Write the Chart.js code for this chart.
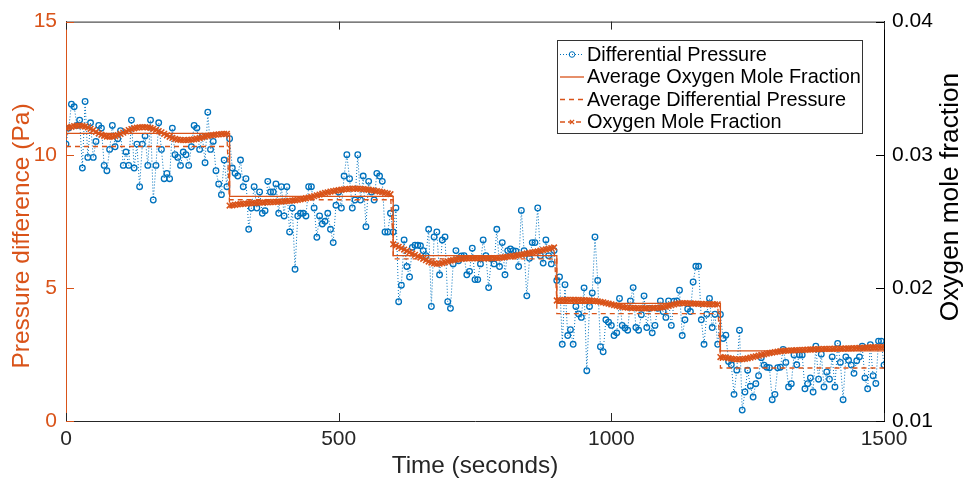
<!DOCTYPE html>
<html>
<head>
<meta charset="utf-8">
<script src="https://cdn.jsdelivr.net/npm/chart.js@4.4.0/dist/chart.umd.min.js"></script>
<style>
  body { margin: 0; background: #fff; }
  canvas { display: block; }
</style>
</head>
<body>
<canvas id="chart" width="964" height="483"></canvas>
<script>
// sampling interval of both measured series (seconds)
var sampleStep = 5;
var stageEdges = [0, 300, 600, 900, 1200, 1500];
var xTicks = [0, 500, 1000, 1500];
var leftTicks = [0, 5, 10, 15];
var rightTicks = [0.01, 0.02, 0.03, 0.04];

// differential pressure (Pa), one array per stage
var dpStage1 = [10.4, 11.0, 11.9, 11.8, 11.1, 11.3, 9.5, 12.0, 9.9, 11.2,
    9.9, 10.5, 11.1, 11.0, 9.6, 9.4, 10.2, 11.1, 10.3, 10.6,
    10.9, 9.6, 10.1, 9.6, 11.3, 9.5, 10.4, 8.8, 10.4, 10.7,
    9.6, 11.3, 8.3, 9.6, 11.2, 10.2, 9.1, 9.3, 9.1, 11.0,
    10.0, 9.9, 9.6, 10.1, 10.0, 9.6, 10.3, 11.1, 11.0, 10.2,
    10.7, 9.7, 11.6, 10.2, 10.5, 9.4, 8.9, 8.5, 9.8, 8.8];
var dpStage2 = [10.6, 9.5, 9.3, 9.2, 9.8, 8.8, 9.1, 7.2, 8.0, 8.8,
    8.0, 8.6, 7.8, 7.9, 9.0, 8.6, 8.6, 8.9, 7.8, 8.8,
    7.7, 8.8, 7.1, 8.0, 5.7, 7.7, 7.8, 7.8, 7.7, 8.8,
    8.8, 8.0, 6.9, 7.7, 7.4, 7.5, 7.8, 7.2, 6.7, 8.1,
    8.6, 8.0, 9.2, 10.0, 9.1, 8.0, 8.3, 10.0, 8.3, 9.2,
    7.3, 9.0, 8.6, 8.3, 9.3, 9.2, 9.0, 7.1, 7.1, 7.8];
var dpStage3 = [7.1, 8.0, 4.48, 5.1, 6.8, 5.8, 5.41, 6.52, 6.6, 6.6,
    6.58, 6.4, 6.21, 7.2, 4.3, 6.91, 7.1, 5.49, 6.8, 6.91,
    4.48, 4.23, 5.9, 6.4, 6.02, 6.2, 6.21, 5.49, 5.62, 6.49,
    5.31, 5.31, 5.9, 6.8, 6.21, 5.01, 6.09, 5.9, 7.2, 5.8,
    6.7, 5.49, 6.4, 6.46, 6.4, 6.38, 5.8, 7.91, 6.4, 4.7,
    6.11, 6.7, 6.7, 8.0, 6.21, 5.93, 6.8, 6.21, 5.9, 6.4];
var dpStage4 = [5.28, 5.41, 2.88, 5.12, 3.21, 3.43, 2.88, 4.3, 4.02, 3.89,
    5.0, 1.89, 4.3, 4.81, 6.91, 5.28, 2.79, 2.6, 3.8, 3.71,
    3.59, 3.21, 3.31, 4.6, 3.59, 3.49, 3.41, 4.51, 5.01, 3.51,
    3.41, 3.99, 4.7, 3.51, 4.23, 3.31, 3.59, 4.23, 4.51, 4.11,
    3.89, 4.51, 3.59, 4.5, 4.51, 4.91, 3.21, 3.8, 4.21, 4.11,
    5.22, 5.81, 5.81, 3.8, 2.88, 4.01, 4.6, 3.51, 4.01, 2.88];
var dpStage5 = [4.0, 3.1, 3.22, 2.23, 2.11, 1.0, 1.91, 3.41, 0.41, 1.09, 1.91,
    1.31, 0.9, 1.4, 1.7, 2.38, 2.1, 2.02, 2.0, 0.8, 1.0,
    2.0, 2.02, 2.69, 2.2, 1.28, 1.4, 2.48, 2.11, 2.48, 2.48,
    1.21, 1.4, 1.62, 1.09, 2.81, 1.57, 2.51, 1.28, 1.84, 1.57,
    2.41, 1.28, 2.91, 2.2, 0.8, 2.41, 2.28, 2.1, 1.79, 2.26,
    2.41, 2.81, 1.62, 1.21, 2.87, 1.7, 1.41, 3.0, 3.0, 2.1];

// oxygen mole fraction, one array per stage
var o2Stage1 = [.03200, .03205, .03210, .03215, .03218, .03219, .03216, .03212, .03205, .03195,
    .03185, .03172, .03160, .03150, .03142, .03137, .03135, .03136, .03140, .03147,
    .03156, .03166, .03176, .03185, .03193, .03199, .03203, .03206, .03207, .03207,
    .03205, .03201, .03195, .03187, .03178, .03168, .03157, .03146, .03135, .03126,
    .03119, .03114, .03111, .03110, .03110, .03111, .03113, .03116, .03120, .03125,
    .03131, .03136, .03141, .03145, .03148, .03151, .03153, .03155, .03156, .03157];
var o2Stage2 = [.02618, .02620, .02624, .02627, .02629, .02631, .02633, .02634, .02636, .02637,
    .02638, .02640, .02641, .02642, .02643, .02644, .02645, .02646, .02647, .02648,
    .02650, .02652, .02654, .02656, .02658, .02661, .02665, .02669, .02673, .02678,
    .02683, .02689, .02695, .02701, .02707, .02713, .02718, .02723, .02727, .02731,
    .02734, .02737, .02740, .02742, .02744, .02745, .02745, .02745, .02744, .02742,
    .02740, .02737, .02734, .02731, .02727, .02723, .02719, .02714, .02709, .02704];
var o2Stage3 = [.02328, .02318, .02308, .02298, .02288, .02278, .02268, .02258, .02248, .02238,
    .02228, .02218, .02208, .02198, .02190, .02184, .02180, .02182, .02186, .02192,
    .02198, .02204, .02209, .02213, .02216, .02218, .02220, .02221, .02222, .02222,
    .02222, .02222, .02222, .02221, .02221, .02221, .02222, .02223, .02224, .02226,
    .02228, .02231, .02234, .02237, .02240, .02243, .02246, .02250, .02254, .02258,
    .02262, .02266, .02270, .02274, .02279, .02284, .02289, .02294, .02299, .02304];
var o2Stage4 = [.01905, .01907, .01908, .01909, .01910, .01910, .01910, .01909, .01909, .01908,
    .01907, .01906, .01905, .01904, .01902, .01899, .01895, .01891, .01886, .01881,
    .01876, .01871, .01866, .01861, .01857, .01854, .01852, .01850, .01849, .01848,
    .01847, .01847, .01847, .01847, .01847, .01848, .01849, .01850, .01852, .01855,
    .01859, .01864, .01870, .01876, .01881, .01884, .01885, .01885, .01884, .01883,
    .01882, .01881, .01880, .01879, .01878, .01878, .01877, .01877, .01876, .01876];
var o2Stage5 = [.01480, .01478, .01476, .01472, .01468, .01465, .01463, .01463, .01464, .01467,
    .01471, .01476, .01481, .01486, .01491, .01496, .01501, .01506, .01510, .01514,
    .01518, .01521, .01524, .01526, .01528, .01529, .01530, .01531, .01532, .01533,
    .01534, .01535, .01536, .01537, .01538, .01539, .01540, .01540, .01541, .01541,
    .01542, .01542, .01543, .01543, .01544, .01544, .01545, .01545, .01546, .01547,
    .01548, .01549, .01550, .01551, .01552, .01553, .01554, .01554, .01555, .01555,
    .01556];

// stage averages
var avgPressure = [10.31, 8.31, 6.09, 4.03, 1.99];
var avgOxygen = [0.03161, 0.02687, 0.02242, 0.01884, 0.01526];

var blue = '#0072BD';
var orange = '#D95319';
var axisGrey = '#262626';
var fontFamily = "'Liberation Sans', Arial, Helvetica, sans-serif";

var pressure = dpStage1.concat(dpStage2, dpStage3, dpStage4, dpStage5);
var oxygen = o2Stage1.concat(o2Stage2, o2Stage3, o2Stage4, o2Stage5);

function series(values) {
    return values.map(function (v, i) { return { x: i * sampleStep, y: v }; });
}

function steps(levels) {
    var pts = [];
    levels.forEach(function (v, i) {
        pts.push({ x: stageEdges[i], y: v });
        pts.push({ x: stageEdges[i + 1], y: v });
    });
    return pts;
}

function fixedTicks(list) {
    return function (scale) {
        scale.ticks = list.map(function (v) { return { value: v }; });
    };
}

// inward tick marks and the top edge of the box
var boxPlugin = {
    id: 'box',
    afterDatasetsDraw: function (chart) {
        var c = chart.ctx, a = chart.chartArea, s = chart.scales, len = 8;
        c.save();
        c.lineWidth = 1;
        c.strokeStyle = axisGrey;
        c.beginPath();
        c.moveTo(a.left, a.top + 0.5);
        c.lineTo(a.right, a.top + 0.5);
        xTicks.forEach(function (v) {
            var px = Math.round(s.x.getPixelForValue(v)) + 0.5;
            c.moveTo(px, a.bottom);
            c.lineTo(px, a.bottom - len);
            c.moveTo(px, a.top);
            c.lineTo(px, a.top + len);
        });
        c.stroke();
        c.strokeStyle = orange;
        c.beginPath();
        leftTicks.forEach(function (v) {
            var py = Math.round(s.y.getPixelForValue(v)) + 0.5;
            c.moveTo(a.left, py);
            c.lineTo(a.left + len, py);
        });
        c.stroke();
        c.strokeStyle = '#000';
        c.beginPath();
        rightTicks.forEach(function (v) {
            var py = Math.round(s.y1.getPixelForValue(v)) + 0.5;
            c.moveTo(a.right, py);
            c.lineTo(a.right - len, py);
        });
        c.stroke();
        c.restore();
    }
};

// axis titles (right one reads bottom to top, as in the figure)
var titlePlugin = {
    id: 'titles',
    afterDraw: function (chart) {
        var c = chart.ctx, a = chart.chartArea;
        c.save();
        c.textAlign = 'center';
        c.textBaseline = 'middle';
        c.font = '24.3px ' + fontFamily;
        c.fillStyle = axisGrey;
        c.fillText('Time (seconds)', (a.left + a.right) / 2, 466);

        c.font = '24.5px ' + fontFamily;
        c.fillStyle = orange;
        c.translate(22, 236);
        c.rotate(-Math.PI / 2);
        c.fillText('Pressure difference (Pa)', 0, 0);
        c.restore();

        c.save();
        c.textAlign = 'center';
        c.textBaseline = 'middle';
        c.font = '26.3px ' + fontFamily;
        c.fillStyle = '#000';
        c.translate(951, 197);
        c.rotate(-Math.PI / 2);
        c.fillText('Oxygen mole fraction', 0, 0);
        c.restore();
    }
};

// boxed legend in the upper right of the plot
var legendPlugin = {
    id: 'boxLegend',
    afterDraw: function (chart) {
        var c = chart.ctx;
        var x0 = 557, y0 = 40, w = 305, h = 93, rowH = 22.5;
        c.save();
        c.fillStyle = '#fff';
        c.fillRect(x0, y0, w, h);
        c.strokeStyle = '#333';
        c.lineWidth = 1;
        c.strokeRect(x0 + 0.5, y0 + 0.5, w, h);
        chart.data.datasets.forEach(function (ds, i) {
            var cy = y0 + 14.5 + i * rowH;
            c.strokeStyle = ds.borderColor;
            c.lineWidth = ds.borderWidth;
            c.setLineDash(ds.borderDash || []);
            c.beginPath();
            c.moveTo(x0 + 3, cy);
            c.lineTo(x0 + 27, cy);
            c.stroke();
            c.setLineDash([]);
            if (ds.pointRadius > 0) {
                c.strokeStyle = ds.borderColor;
                c.fillStyle = 'rgba(0,0,0,0)';
                Chart.helpers.drawPoint(c, {
                    pointStyle: ds.pointStyle,
                    radius: Math.min(ds.pointRadius, 3),
                    borderWidth: ds.pointBorderWidth,
                    rotation: 0
                }, x0 + 15, cy);
            }
            c.fillStyle = '#000';
            c.font = '19.9px ' + fontFamily;
            c.textAlign = 'left';
            c.textBaseline = 'middle';
            c.fillText(ds.label, x0 + 30, cy + 1);
        });
        c.restore();
    }
};

new Chart(document.getElementById('chart'), {
    type: 'line',
    data: {
        datasets: [{
            label: 'Differential Pressure',
            data: series(pressure),
            yAxisID: 'y',
            borderColor: blue,
            borderWidth: 1,
            borderDash: [1, 2],
            pointStyle: 'circle',
            pointRadius: 2.8,
            pointBorderWidth: 1.3,
            pointBorderColor: blue,
            pointBackgroundColor: 'rgba(0,0,0,0)',
            order: 4
        }, {
            label: 'Average Oxygen Mole Fraction',
            data: steps(avgOxygen),
            yAxisID: 'y1',
            borderColor: orange,
            borderWidth: 1.3,
            pointRadius: 0,
            order: 1
        }, {
            label: 'Average Differential Pressure',
            data: steps(avgPressure),
            yAxisID: 'y',
            borderColor: orange,
            borderWidth: 1.3,
            borderDash: [5, 4],
            pointRadius: 0,
            order: 3
        }, {
            label: 'Oxygen Mole Fraction',
            data: series(oxygen),
            yAxisID: 'y1',
            borderColor: orange,
            borderWidth: 1.3,
            borderDash: [5, 3],
            pointStyle: 'crossRot',
            pointRadius: 4,
            pointBorderWidth: 1.6,
            pointBorderColor: orange,
            order: 2
        }]
    },
    options: {
        responsive: false,
        animation: false,
        layout: { padding: { top: 16, left: 0, right: 0, bottom: 0 } },
        elements: { line: { tension: 0 } },
        plugins: {
            legend: { display: false },
            tooltip: { enabled: false }
        },
        scales: {
            x: {
                type: 'linear',
                min: 0,
                max: 1500,
                afterBuildTicks: fixedTicks(xTicks),
                ticks: {
                    color: axisGrey,
                    font: { family: fontFamily, size: 21 },
                    padding: 6,
                    maxRotation: 0,
                    autoSkip: false,
                    callback: function (v) { return String(v); }
                },
                grid: { drawOnChartArea: false, drawTicks: false },
                border: { color: axisGrey },
                afterFit: function (s) { s.height = 62; }
            },
            y: {
                type: 'linear',
                position: 'left',
                min: 0,
                max: 15,
                afterBuildTicks: fixedTicks(leftTicks),
                ticks: { color: orange, font: { family: fontFamily, size: 21 }, padding: 9 },
                grid: { drawOnChartArea: false, drawTicks: false },
                border: { color: orange },
                afterFit: function (s) { s.width = 66; }
            },
            y1: {
                type: 'linear',
                position: 'right',
                min: 0.01,
                max: 0.04,
                afterBuildTicks: fixedTicks(rightTicks),
                ticks: {
                    color: '#000',
                    font: { family: fontFamily, size: 21 },
                    padding: 8,
                    callback: function (v) { return v.toFixed(2); }
                },
                grid: { drawOnChartArea: false, drawTicks: false },
                border: { color: '#000' },
                afterFit: function (s) { s.width = 80; }
            }
        }
    },
    plugins: [boxPlugin, titlePlugin, legendPlugin]
});
</script>
</body>
</html>
